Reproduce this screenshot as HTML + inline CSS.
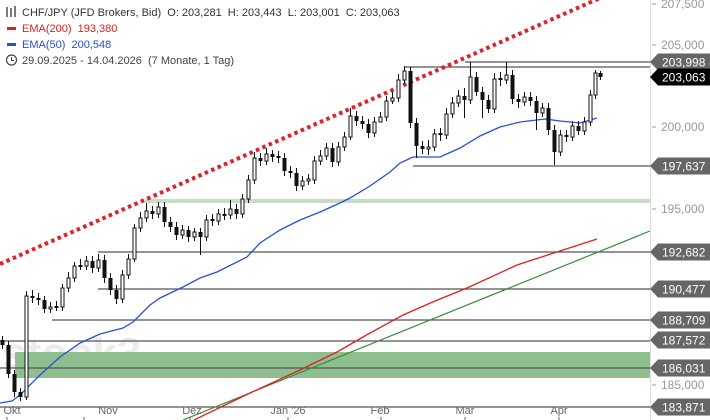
<!DOCTYPE html>
<html><head><meta charset="utf-8"><style>
body{margin:0;background:#fff;}
svg{display:block;font-family:"Liberation Sans",sans-serif;}
.b{fill:#111}
.w{fill:#fff;stroke:#111;stroke-width:1}
</style></head><body>
<svg width="710" height="420" viewBox="0 0 710 420" xmlns="http://www.w3.org/2000/svg">
<rect width="710" height="420" fill="#fff"/>
<text x="2" y="368" font-size="44" fill="#ececec" font-weight="bold">stock3</text>
<rect x="15" y="352" width="635" height="26" fill="#8fbf8f"/>
<rect x="145" y="199" width="505" height="4" fill="#c5dcc5"/>
<g stroke="#555" stroke-width="1.2">
<line x1="465" y1="62" x2="650" y2="62"/>
<line x1="405" y1="67" x2="650" y2="67"/>
<line x1="413" y1="166" x2="650" y2="166"/>
<line x1="98" y1="252" x2="650" y2="252"/>
<line x1="98" y1="289" x2="650" y2="289"/>
<line x1="52" y1="320" x2="650" y2="320"/>
<line x1="0" y1="341" x2="650" y2="341"/>
<line x1="0" y1="368" x2="650" y2="368"/>
<line x1="0" y1="407" x2="650" y2="407"/>
</g>
<line x1="183" y1="420" x2="650" y2="231" stroke="#3a8a3a" stroke-width="1.2"/>
<polyline fill="none" stroke="#e02020" stroke-width="1.3" points="194,420 250,393 300,370 337,352 370,333 403,315 435,301 467,288 517,265 563,250 597,239"/>
<polyline fill="none" stroke="#2a4fd8" stroke-width="1.3" points="0,403 12,401 20,395 40,375 60,357 80,343 100,334 123,328 133,322 150,305 160,298 183,287 200,278 217,272 247,257 260,243 280,230 300,220 320,212 340,203 350,198 370,186 390,172 400,163 413,157 440,157 460,148 480,136 500,127 520,122 545,119 560,121 580,123 597,118"/>
<line x1="0" y1="264" x2="600" y2="-2" stroke="#e0202a" stroke-width="4" stroke-dasharray="3.5 3.5"/>
<path fill="none" stroke="#111" stroke-width="1" d="M2.5 336V349M8.5 341V378M14.5 370V397M20.5 388V401M26.5 291V400M32.5 290V303M38.5 293V305M44.5 296V313M50.5 302V313M56.5 301V311M62.5 284V311M68.5 272V292M74.5 262V282M80.5 259V270M86.5 256V270M92.5 256V273M98.5 254V272M104.5 255V283M110.5 273V295M116.5 285V304M122.5 270V303M128.5 254V279M134.5 224V262M140.5 212V232M146.5 203V222M152.5 206V219M158.5 202V218M164.5 202V227M170.5 217V232M176.5 222V240M182.5 225V239M188.5 226V242M194.5 228V241M200.5 228V255M206.5 215V241M212.5 214V226M218.5 209V225M224.5 208V220M230.5 200V219M236.5 204V219M242.5 194V218M248.5 175V203M254.5 152V184M260.5 153V166M266.5 148V165M272.5 150V162M278.5 151V163M284.5 153V176M290.5 166V178M296.5 168V191M302.5 176V190M308.5 174V185M314.5 156V184M320.5 150V165M326.5 143V160M332.5 143V167M338.5 142V166M344.5 132V151M350.5 108V140M356.5 111V126M362.5 116V129M368.5 119V138M374.5 117V137M380.5 112V121M386.5 96V121M392.5 92V104M398.5 74V102M404.5 66V84M410.5 67V128M416.5 118V158M422.5 141V154M428.5 140V155M434.5 129V151M440.5 128V141M446.5 108V139M452.5 97V118M458.5 90V107M464.5 88V118M470.5 62V104M476.5 72V96M482.5 87V118M488.5 95V113M494.5 73V113M500.5 72V86M506.5 62V84M512.5 70V104M518.5 94V108M524.5 92V106M530.5 92V106M536.5 96V130M542.5 103V117M548.5 103V135M554.5 125V165M560.5 130V156M566.5 130V142M572.5 121V141M578.5 121V135M584.5 117V135M590.5 90V126M595.5 70V99M600.5 71V80"/>
<g>
<rect class="b" x="0.5" y="340" width="4" height="5"/>
<rect class="b" x="6.5" y="345" width="4" height="29"/>
<rect class="b" x="12.5" y="374" width="4" height="18"/>
<rect class="b" x="18.5" y="392" width="4" height="5"/>
<rect class="w" x="25" y="296" width="3" height="101"/>
<rect class="b" x="30.5" y="296" width="4" height="2"/>
<rect class="b" x="36.5" y="298" width="4" height="2"/>
<rect class="b" x="42.5" y="300" width="4" height="9"/>
<rect class="w" x="49" y="307" width="3" height="2"/>
<rect class="b" x="54.5" y="306" width="4" height="2"/>
<rect class="w" x="61" y="288" width="3" height="19"/>
<rect class="w" x="67" y="278" width="3" height="10"/>
<rect class="w" x="73" y="266" width="3" height="12"/>
<rect class="b" x="78.5" y="265" width="4" height="2"/>
<rect class="w" x="85" y="261" width="3" height="5"/>
<rect class="b" x="90.5" y="261" width="4" height="7"/>
<rect class="w" x="97" y="260" width="3" height="8"/>
<rect class="b" x="102.5" y="260" width="4" height="18"/>
<rect class="b" x="108.5" y="278" width="4" height="12"/>
<rect class="b" x="114.5" y="290" width="4" height="9"/>
<rect class="w" x="121" y="275" width="3" height="24"/>
<rect class="w" x="127" y="259" width="3" height="16"/>
<rect class="w" x="133" y="228" width="3" height="31"/>
<rect class="w" x="139" y="218" width="3" height="10"/>
<rect class="w" x="145" y="211" width="3" height="7"/>
<rect class="b" x="150.5" y="211" width="4" height="3"/>
<rect class="w" x="157" y="207" width="3" height="7"/>
<rect class="b" x="162.5" y="207" width="4" height="15"/>
<rect class="b" x="168.5" y="222" width="4" height="5"/>
<rect class="b" x="174.5" y="227" width="4" height="8"/>
<rect class="w" x="181" y="230" width="3" height="5"/>
<rect class="b" x="186.5" y="230" width="4" height="7"/>
<rect class="w" x="193" y="232" width="3" height="5"/>
<rect class="b" x="198.5" y="232" width="4" height="5"/>
<rect class="w" x="205" y="220" width="3" height="17"/>
<rect class="b" x="210.5" y="219" width="4" height="2"/>
<rect class="w" x="217" y="214" width="3" height="7"/>
<rect class="b" x="222.5" y="214" width="4" height="2"/>
<rect class="w" x="229" y="209" width="3" height="6"/>
<rect class="b" x="234.5" y="209" width="4" height="5"/>
<rect class="w" x="241" y="199" width="3" height="15"/>
<rect class="w" x="247" y="180" width="3" height="19"/>
<rect class="w" x="253" y="158" width="3" height="22"/>
<rect class="b" x="258.5" y="158" width="4" height="3"/>
<rect class="w" x="265" y="154" width="3" height="7"/>
<rect class="b" x="270.5" y="154" width="4" height="3"/>
<rect class="b" x="276.5" y="156" width="4" height="2"/>
<rect class="b" x="282.5" y="158" width="4" height="13"/>
<rect class="b" x="288.5" y="171" width="4" height="2"/>
<rect class="b" x="294.5" y="173" width="4" height="13"/>
<rect class="w" x="301" y="181" width="3" height="5"/>
<rect class="w" x="307" y="179" width="3" height="2"/>
<rect class="w" x="313" y="161" width="3" height="19"/>
<rect class="w" x="319" y="156" width="3" height="5"/>
<rect class="w" x="325" y="148" width="3" height="8"/>
<rect class="b" x="330.5" y="148" width="4" height="14"/>
<rect class="w" x="337" y="147" width="3" height="15"/>
<rect class="w" x="343" y="137" width="3" height="10"/>
<rect class="w" x="349" y="116" width="3" height="21"/>
<rect class="b" x="354.5" y="116" width="4" height="5"/>
<rect class="b" x="360.5" y="121" width="4" height="3"/>
<rect class="b" x="366.5" y="124" width="4" height="9"/>
<rect class="w" x="373" y="122" width="3" height="11"/>
<rect class="w" x="379" y="117" width="3" height="5"/>
<rect class="w" x="385" y="101" width="3" height="16"/>
<rect class="w" x="391" y="98" width="3" height="3"/>
<rect class="w" x="397" y="80" width="3" height="18"/>
<rect class="w" x="403" y="71" width="3" height="9"/>
<rect class="b" x="408.5" y="71" width="4" height="52"/>
<rect class="b" x="414.5" y="123" width="4" height="23"/>
<rect class="b" x="420.5" y="146" width="4" height="3"/>
<rect class="w" x="427" y="147" width="3" height="2"/>
<rect class="w" x="433" y="134" width="3" height="13"/>
<rect class="b" x="438.5" y="133" width="4" height="2"/>
<rect class="w" x="445" y="114" width="3" height="21"/>
<rect class="w" x="451" y="103" width="3" height="11"/>
<rect class="w" x="457" y="96" width="3" height="7"/>
<rect class="b" x="462.5" y="96" width="4" height="4"/>
<rect class="w" x="469" y="77" width="3" height="23"/>
<rect class="b" x="474.5" y="77" width="4" height="15"/>
<rect class="b" x="480.5" y="92" width="4" height="8"/>
<rect class="b" x="486.5" y="100" width="4" height="9"/>
<rect class="w" x="493" y="79" width="3" height="30"/>
<rect class="b" x="498.5" y="78" width="4" height="2"/>
<rect class="w" x="505" y="75" width="3" height="5"/>
<rect class="b" x="510.5" y="75" width="4" height="24"/>
<rect class="b" x="516.5" y="99" width="4" height="3"/>
<rect class="w" x="523" y="97" width="3" height="5"/>
<rect class="b" x="528.5" y="97" width="4" height="4"/>
<rect class="b" x="534.5" y="101" width="4" height="12"/>
<rect class="w" x="541" y="108" width="3" height="5"/>
<rect class="b" x="546.5" y="108" width="4" height="22"/>
<rect class="b" x="552.5" y="130" width="4" height="22"/>
<rect class="w" x="559" y="135" width="3" height="17"/>
<rect class="b" x="564.5" y="135" width="4" height="2"/>
<rect class="w" x="571" y="126" width="3" height="11"/>
<rect class="b" x="576.5" y="126" width="4" height="5"/>
<rect class="w" x="583" y="122" width="3" height="9"/>
<rect class="w" x="589" y="95" width="3" height="27"/>
<rect class="w" x="594" y="73" width="3" height="22"/>
<rect class="b" x="598.5" y="73" width="4" height="4"/>
</g>
<line x1="650.5" y1="0" x2="650.5" y2="420" stroke="#ddd"/>
<g font-size="12" fill="#999">
<text x="661" y="8">207,500</text><line x1="652" y1="4" x2="656" y2="4" stroke="#999"/>
<text x="661" y="49">205,000</text><line x1="652" y1="45" x2="656" y2="45" stroke="#999"/>
<text x="661" y="131">200,000</text><line x1="652" y1="127" x2="656" y2="127" stroke="#999"/>
<text x="661" y="213">195,000</text><line x1="652" y1="209" x2="656" y2="209" stroke="#999"/>
<text x="661" y="389">185,000</text><line x1="652" y1="385" x2="656" y2="385" stroke="#999"/>
</g>
<g font-size="12" fill="#fff">
<path d="M650 62L658 53.5H710V70.5H658Z" fill="#666"/><text x="662" y="66.5">203,998</text>
<path d="M650 77L658 68.5H710V85.5H658Z" fill="#000"/><text x="662" y="81.5">203,063</text>
<path d="M650 166L658 157.5H710V174.5H658Z" fill="#666"/><text x="662" y="170.5">197,637</text>
<path d="M650 252L658 243.5H710V260.5H658Z" fill="#666"/><text x="662" y="256.5">192,682</text>
<path d="M650 289L658 280.5H710V297.5H658Z" fill="#666"/><text x="662" y="293.5">190,477</text>
<path d="M650 320L658 311.5H710V328.5H658Z" fill="#666"/><text x="662" y="324.5">188,709</text>
<path d="M650 340L658 331.5H710V348.5H658Z" fill="#666"/><text x="662" y="344.5">187,572</text>
<path d="M650 368L658 359.5H710V376.5H658Z" fill="#666"/><text x="662" y="372.5">186,031</text>
<path d="M650 407L658 398.5H710V415.5H658Z" fill="#666"/><text x="662" y="411.5">183,871</text>
</g>
<g font-size="11" fill="#666" text-anchor="middle">
<text x="12" y="414">Okt</text><text x="108" y="414">Nov</text><text x="192" y="414">Dez</text><text x="288" y="414">Jan '26</text><text x="380" y="414">Feb</text><text x="465" y="414">Mär</text><text x="559" y="414">Apr</text>
</g>
<g stroke="#666"><line x1="7" y1="417" x2="7" y2="420"/><line x1="84" y1="417" x2="84" y2="420"/><line x1="190" y1="417" x2="190" y2="420"/><line x1="288" y1="417" x2="288" y2="420"/><line x1="381" y1="417" x2="381" y2="420"/><line x1="465" y1="417" x2="465" y2="420"/><line x1="559" y1="417" x2="559" y2="420"/></g>
<g font-size="11">
<g stroke="#222" stroke-width="1.2"><line x1="7" y1="7" x2="7" y2="17"/><line x1="11" y1="8" x2="11" y2="17"/><line x1="15" y1="6" x2="15" y2="17"/></g>
<text x="22" y="16" fill="#333" xml:space="preserve">CHF/JPY (JFD Brokers, Bid)  O: 203,281  H: 203,443  L: 203,001  C: 203,063</text>
<rect x="7" y="27" width="9" height="3" fill="#e02020"/>
<text x="22" y="32" fill="#e02020" xml:space="preserve">EMA(200)  193,380</text>
<rect x="7" y="43" width="9" height="3" fill="#2a4fd8"/>
<text x="22" y="48" fill="#2a4fd8" xml:space="preserve">EMA(50)  200,548</text>
<circle cx="11.5" cy="60" r="5" fill="none" stroke="#444" stroke-width="1.2"/><path d="M11.5 57v3.5h2.5" fill="none" stroke="#444" stroke-width="1.1"/>
<text x="22" y="64" fill="#444" xml:space="preserve">29.09.2025 - 14.04.2026  (7 Monate, 1 Tag)</text>
</g>
</svg>
</body></html>
